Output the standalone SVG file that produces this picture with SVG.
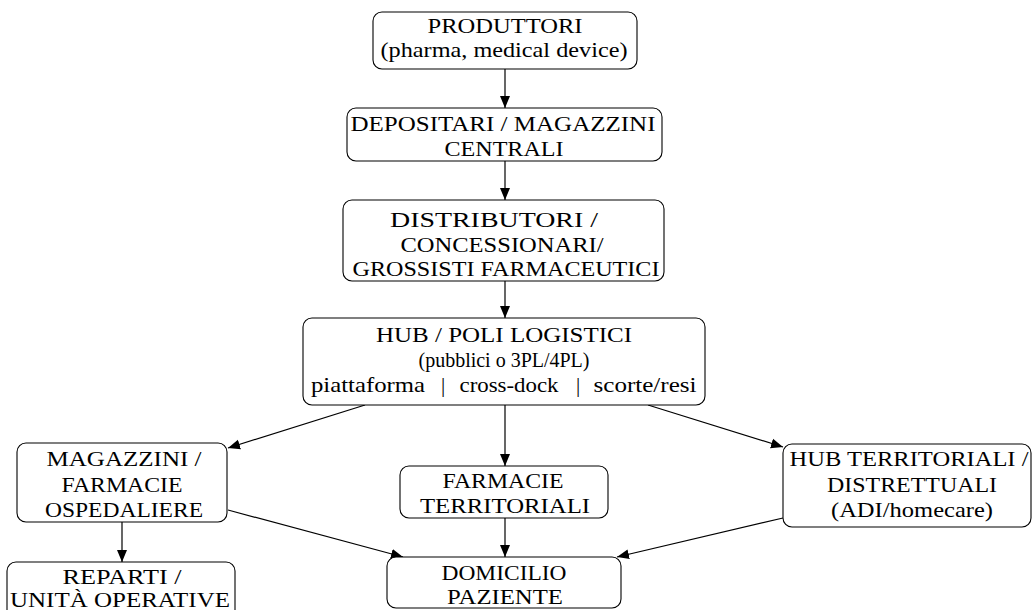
<svg xmlns="http://www.w3.org/2000/svg" width="1032" height="610" viewBox="0 0 1032 610">
  <style>
    .box { fill: #ffffff; stroke: #000000; stroke-width: 1.1; }
    .lbl { font-family: "Liberation Serif", "DejaVu Serif", serif; font-size: 21px; fill: #000000; text-anchor: middle; }
    .edge { fill: none; stroke: #000000; stroke-width: 1.2; marker-end: url(#arrow); }
  </style>
  <defs>
    <marker id="arrow" markerUnits="userSpaceOnUse" markerWidth="13" markerHeight="11" refX="12" refY="5.5" orient="auto">
      <path d="M0,0.5 L12,5.5 L0,10.5 z" fill="#000000"/>
    </marker>
  </defs>
  <rect width="1032" height="610" fill="#ffffff"/>

  <g id="connectors">
    <line class="edge" x1="505" y1="69" x2="505" y2="108"/>
    <line class="edge" x1="505" y1="161" x2="505" y2="200"/>
    <line class="edge" x1="505" y1="281" x2="505" y2="318"/>
    <line class="edge" x1="365" y1="405" x2="228" y2="448"/>
    <line class="edge" x1="505" y1="405" x2="505" y2="466"/>
    <line class="edge" x1="648" y1="405" x2="783" y2="447"/>
    <line class="edge" x1="122" y1="522" x2="122" y2="562"/>
    <line class="edge" x1="228" y1="510" x2="403" y2="557"/>
    <line class="edge" x1="505" y1="518" x2="505" y2="557"/>
    <line class="edge" x1="783" y1="518" x2="617" y2="557"/>
  </g>

  <g id="produttori">
    <rect class="box" x="373" y="12" width="264" height="57" rx="9"/>
    <text class="lbl" x="505" y="33" textLength="155" lengthAdjust="spacingAndGlyphs">PRODUTTORI</text>
    <text class="lbl" x="504" y="57" textLength="247" lengthAdjust="spacingAndGlyphs">(pharma, medical device)</text>
  </g>

  <g id="depositari">
    <rect class="box" x="347" y="108" width="315" height="53" rx="9"/>
    <text class="lbl" x="503" y="131" textLength="305" lengthAdjust="spacingAndGlyphs">DEPOSITARI / MAGAZZINI</text>
    <text class="lbl" x="504" y="156" textLength="119" lengthAdjust="spacingAndGlyphs">CENTRALI</text>
  </g>

  <g id="distributori">
    <rect class="box" x="343" y="200" width="321" height="81" rx="9"/>
    <text class="lbl" x="494" y="227" textLength="208" lengthAdjust="spacingAndGlyphs">DISTRIBUTORI /</text>
    <text class="lbl" x="502" y="252" textLength="203" lengthAdjust="spacingAndGlyphs">CONCESSIONARI/</text>
    <text class="lbl" x="506" y="276" textLength="307" lengthAdjust="spacingAndGlyphs">GROSSISTI FARMACEUTICI</text>
  </g>

  <g id="hub-logistici">
    <rect class="box" x="303" y="318" width="402" height="87" rx="9"/>
    <text class="lbl" x="504" y="342" textLength="256" lengthAdjust="spacingAndGlyphs">HUB / POLI LOGISTICI</text>
    <text class="lbl" x="504" y="367" textLength="171" lengthAdjust="spacingAndGlyphs">(pubblici o 3PL/4PL)</text>
    <text class="lbl" x="368" y="392" textLength="114" lengthAdjust="spacingAndGlyphs">piattaforma</text>
    <text class="lbl" x="443" y="392">|</text>
    <text class="lbl" x="509" y="392" textLength="99" lengthAdjust="spacingAndGlyphs">cross-dock</text>
    <text class="lbl" x="578" y="392">|</text>
    <text class="lbl" x="645" y="392" textLength="103" lengthAdjust="spacingAndGlyphs">scorte/resi</text>
  </g>

  <g id="farmacie-ospedaliere">
    <rect class="box" x="17" y="443" width="210" height="79" rx="9"/>
    <text class="lbl" x="124" y="466" textLength="155" lengthAdjust="spacingAndGlyphs">MAGAZZINI /</text>
    <text class="lbl" x="122" y="492" textLength="121" lengthAdjust="spacingAndGlyphs">FARMACIE</text>
    <text class="lbl" x="124" y="517" textLength="158" lengthAdjust="spacingAndGlyphs">OSPEDALIERE</text>
  </g>

  <g id="farmacie-territoriali">
    <rect class="box" x="400" y="466" width="208" height="52" rx="9"/>
    <text class="lbl" x="503" y="488" textLength="121" lengthAdjust="spacingAndGlyphs">FARMACIE</text>
    <text class="lbl" x="505" y="513" textLength="170" lengthAdjust="spacingAndGlyphs">TERRITORIALI</text>
  </g>

  <g id="hub-territoriali">
    <rect class="box" x="783" y="444" width="248" height="83" rx="9"/>
    <text class="lbl" x="909" y="466" textLength="239" lengthAdjust="spacingAndGlyphs">HUB TERRITORIALI /</text>
    <text class="lbl" x="912" y="492" textLength="170" lengthAdjust="spacingAndGlyphs">DISTRETTUALI</text>
    <text class="lbl" x="912" y="517" textLength="162" lengthAdjust="spacingAndGlyphs">(ADI/homecare)</text>
  </g>

  <g id="reparti">
    <rect class="box" x="7" y="562" width="228" height="60" rx="9"/>
    <text class="lbl" x="122" y="584" textLength="119" lengthAdjust="spacingAndGlyphs">REPARTI /</text>
    <text class="lbl" x="120" y="607" textLength="220" lengthAdjust="spacingAndGlyphs">UNITÀ OPERATIVE</text>
  </g>

  <g id="domicilio">
    <rect class="box" x="387" y="557" width="234" height="51" rx="9"/>
    <text class="lbl" x="504" y="580" textLength="125" lengthAdjust="spacingAndGlyphs">DOMICILIO</text>
    <text class="lbl" x="505" y="604" textLength="116" lengthAdjust="spacingAndGlyphs">PAZIENTE</text>
  </g>
</svg>
